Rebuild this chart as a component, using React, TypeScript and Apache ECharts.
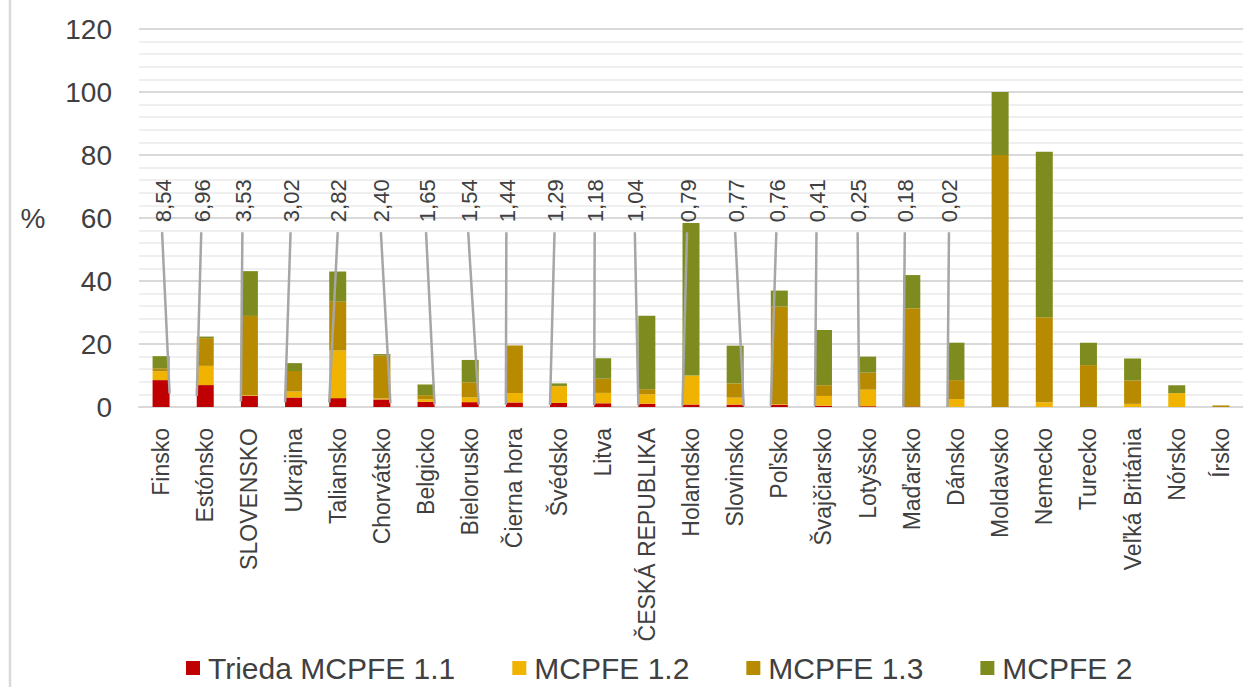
import React, { useEffect, useRef } from "react";
import * as echarts from "echarts";

const categories = [
  "Finsko", "Estónsko", "SLOVENSKO", "Ukrajina", "Taliansko", "Chorvátsko",
  "Belgicko", "Bielorusko", "Čierna hora", "Švédsko", "Litva", "ČESKÁ REPUBLIKA",
  "Holandsko", "Slovinsko", "Poľsko", "Švajčiarsko", "Lotyšsko", "Maďarsko",
  "Dánsko", "Moldavsko", "Nemecko", "Turecko", "Veľká Británia", "Nórsko", "Írsko",
];

const seriesNames = ["Trieda MCPFE 1.1", "MCPFE 1.2", "MCPFE 1.3", "MCPFE 2"];

const mcpfe11 = [8.54, 6.96, 3.53, 3.02, 2.82, 2.4, 1.65, 1.54, 1.44, 1.29, 1.18, 1.04, 0.79, 0.77, 0.76, 0.41, 0.25, 0.18, 0.02, 0, 0, 0, 0, 0, 0];
const mcpfe12 = [2.8, 6.1, 0.2, 1.9, 15.1, 0.3, 0.8, 1.5, 3.0, 5.3, 3.3, 3.0, 9.2, 2.2, 0.2, 3.1, 5.25, 0, 2.5, 0, 1.5, 0, 1.0, 4.4, 0];
const mcpfe13 = [0.9, 8.8, 25.2, 6.5, 15.5, 13.6, 1.3, 4.8, 15.1, 0.1, 4.5, 1.6, 0, 4.5, 30.9, 3.4, 5.4, 31.2, 6.0, 80, 27.0, 13.3, 7.4, 0, 0.5];
const mcpfe2 = [3.9, 0.5, 14.2, 2.5, 9.6, 0.5, 3.4, 7.1, 0, 0.8, 6.5, 23.3, 48.4, 12.0, 5.1, 17.5, 5.1, 10.5, 11.9, 20, 52.5, 7.1, 7.0, 2.5, 0];

const yMin = 0;
const yMax = 120;
const yStep = 20;

// layout of the value-label leader lines (pixel shifts, not data)
const leaderTopShift = [1, -4, -7, -3, 0, -1, 0, -2, -8, -4, -8, -12, -4, 0, -3, -7, -10, -7, -7];
const leaderBottomSide = [1, -1, -1, -1, -1, 1, 1, 1, -1, -1, -1, -1, -1, 1, -1, -1, -1, -1, -1];

const FONT = "'Liberation Sans', Arial, sans-serif";
const COLORS = ["#C00000", "#F0B400", "#B88A00", "#7E8B1F"];

export default function App() {
  const ref = useRef<HTMLDivElement>(null);

  useEffect(() => {
    const chart = echarts.init(ref.current!, null, { renderer: "svg" });
    const fmt = (v: number) => v.toFixed(2).replace(".", ",");
    const labelData = mcpfe11
      .map((v, i) => [i, v])
      .filter((d) => d[1] > 0);
    const barWidth = 17;

    const renderItem = (params: any, api: any) => {
      const i = api.value(0);
      const v = api.value(1);
      const k = params.dataIndex;
      const base = api.coord([i, 0]);
      const top = api.coord([i, 55.5]);
      const mid = api.coord([i, v / 2]);
      const xTop = base[0] + leaderTopShift[k];
      const xBot = base[0] + leaderBottomSide[k] * (barWidth / 2);
      return {
        type: "group",
        children: [
          {
            type: "line",
            shape: { x1: xTop, y1: top[1], x2: xBot, y2: mid[1] },
            style: { stroke: "#A6A6A6", lineWidth: 2.5 },
          },
          {
            type: "text",
            x: xTop + 1,
            y: top[1] - 10,
            rotation: Math.PI / 2,
            style: {
              text: fmt(v),
              align: "left",
              verticalAlign: "middle",
              textAlign: "left",
              textVerticalAlign: "middle",
              fill: "#404040",
              font: `22px ${FONT}`,
            },
          },
        ],
      };
    };

    const values = [mcpfe11, mcpfe12, mcpfe13, mcpfe2];
    const bars = seriesNames.map((name, s) => ({
      name,
      type: "bar",
      stack: "total",
      barWidth,
      data: values[s],
      itemStyle: { color: COLORS[s] },
    }));

    chart.setOption({
      animation: false,
      color: COLORS,
      backgroundColor: "#ffffff",
      grid: { left: 139, top: 29, width: 1110, height: 378, containLabel: false },
      legend: {
        data: seriesNames,
        left: 186,
        top: 653,
        icon: "rect",
        itemWidth: 14,
        itemHeight: 14,
        itemGap: 57,
        padding: 0,
        textStyle: { fontFamily: FONT, fontSize: 30, lineHeight: 30, color: "#404040", padding: [0, 0, 0, 3] },
      },
      xAxis: {
        type: "category",
        data: categories,
        axisTick: { show: false },
        axisLine: { lineStyle: { color: "#D9D9D9", width: 2 } },
        axisLabel: {
          rotate: 90,
          interval: 0,
          margin: 21,
          fontFamily: FONT,
          fontSize: 23,
          color: "#404040",
        },
      },
      yAxis: {
        type: "value",
        min: yMin,
        max: yMax,
        interval: yStep,
        name: "%",
        nameLocation: "middle",
        nameRotate: 0,
        nameGap: 106,
        nameTextStyle: { fontFamily: FONT, fontSize: 28, color: "#404040", align: "center" },
        axisLine: { show: false },
        axisTick: { show: false },
        axisLabel: { margin: 27, fontFamily: FONT, fontSize: 28, color: "#404040" },
        splitLine: { lineStyle: { color: "#D9D9D9", width: 2 } },
        minorTick: { show: false, splitNumber: 5 },
        minorSplitLine: { show: true, lineStyle: { color: "#EFEFEF", width: 2 } },
      },
      graphic: [
        {
          type: "line",
          shape: { x1: 10, y1: 0, x2: 10, y2: 687 },
          style: { stroke: "#D9D9D9", lineWidth: 2.5 },
        },
      ],
      series: [
        ...bars,
        {
          type: "custom",
          renderItem,
          data: labelData,
          z: 5,
          clip: false,
          silent: true,
        },
      ],
    });

    return () => chart.dispose();
  }, []);

  return (
    <div
      ref={ref}
      style={{ position: "fixed", left: 0, top: 0, width: 1243, height: 687, background: "#fff" }}
    />
  );
}
